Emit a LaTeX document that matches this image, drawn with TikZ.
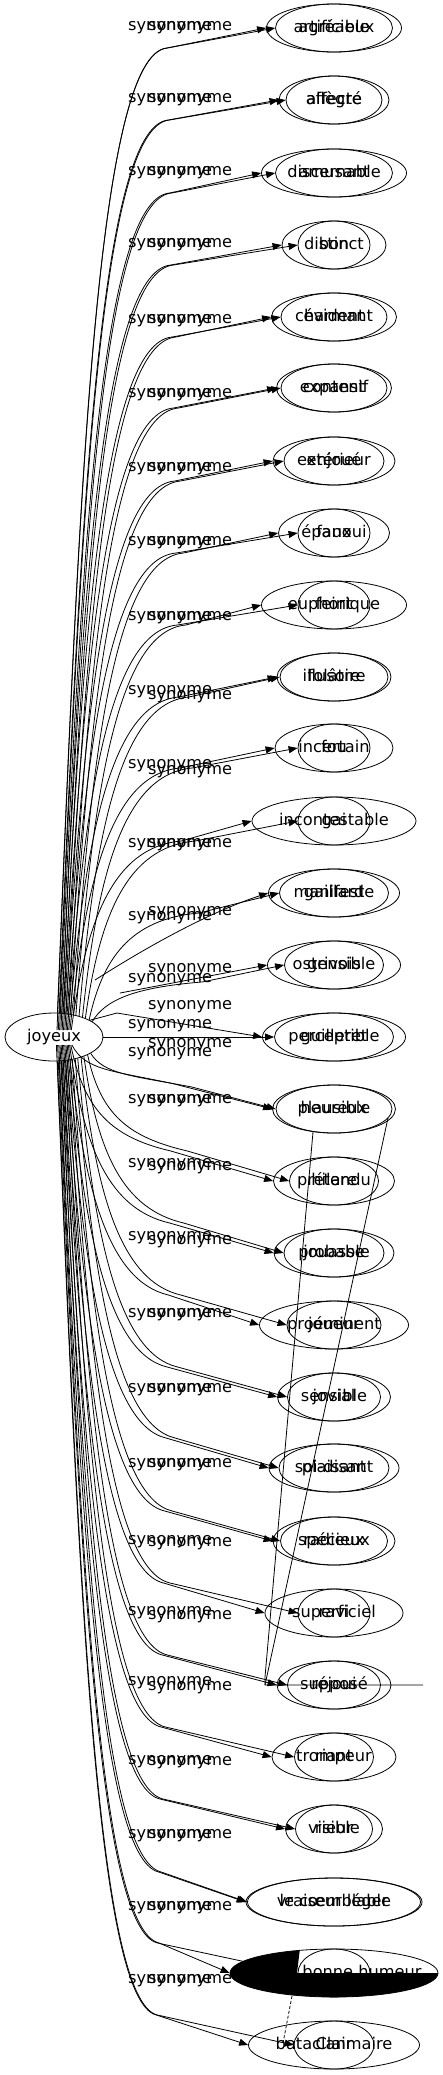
\documentclass[tikz,border=0pt]{standalone}
\usepackage{fontspec}
\setmainfont{DejaVu Sans}
\usetikzlibrary{shapes.geometric,arrows.meta}
\tikzset{
  word/.style={draw, ellipse, minimum height=48pt, inner sep=0pt, line width=0.8pt,
               text height=12pt, text depth=3.5pt},
  lbl/.style={anchor=west, inner sep=0pt},
  syn/.style={line width=0.8pt, -{Triangle[length=9pt,width=7pt]}},
  plain/.style={line width=0.8pt},
}
% #1 start point, #2 sx, #3 sy, #4 target y, #5 target node
\newcommand\synedge[5]{%
  \pgfmathsetmacro\myD{abs(#4-#3)}%
  \pgfmathsetmacro\myAx{#2+12+0.01*\myD}%
  \ifdim #4pt<#3pt
    \pgfmathsetmacro\myAy{#3-(0.55*\myD-10)}%
    \pgfmathsetmacro\myPx{#2+110}%
    \pgfmathsetmacro\myPy{#4+min(20,0.3*\myD)}%
    \pgfmathsetmacro\myBy{\myPy+min(6,0.1*\myD)}%
    \pgfmathsetmacro\myBx{\myPx-70}%
  \else
    \pgfmathsetmacro\myAy{#3+0.55*\myD-10}%
    \pgfmathsetmacro\myPx{#2+100}%
    \pgfmathsetmacro\myPy{#4-min(30,0.4*\myD)}%
    \pgfmathsetmacro\myBy{\myPy-min(14,0.2*\myD)}%
    \pgfmathsetmacro\myBx{\myPx-60}%
  \fi
  \draw[syn] #1 .. controls (\myAx,\myAy) and (\myBx,\myBy) .. (\myPx,\myPy) -- (#5.west);%
}
\begin{document}
\begin{tikzpicture}[x=1pt,y=-1pt,font=\fontsize{16.2}{19}\selectfont]
\useasboundingbox (0,0) rectangle (443,2075);

% centre node
\node[word, minimum width=98pt] (J) at (54,1037) {joyeux};

% word nodes (two overlaid graphs)
\foreach \k/\y/\wa/\ta/\wb/\tb in {
 1/28/117/agréable/135/artificieux,
 2/100/96/allègre/110/affecté,
 3/173/117/amusant/145/discernable,
 4/245/72/bon/104/distinct,
 5/317/125/charmant/106/évident,
 6/388/106/content/115/expansif,
 7/461/100/enjoué/122/extérieur,
 8/533/111/épanoui/72/faux,
 9/605/145/euphorique/72/feint,
 10/677/108/folâtre/114/illusoire,
 11/748/72/fou/118/incertain,
 12/821/72/gai/164/incontestable,
 13/893/109/gaillard/131/manifeste,
 14/965/99/grivois/133/ostensible,
 15/1037/119/guilleret/143/perceptible,
 16/1109/116/heureux/123/plausible,
 17/1181/89/hilare/121/prétendu,
 18/1253/100/jouasse/120/probable,
 19/1325/94/joueur/149/proéminent,
 20/1397/93/jovial/113/sensible,
 21/1468/110/plaisant/130/soi-disant,
 22/1541/107/radieux/122/spécieux,
 23/1613/72/ravi/138/superficiel,
 24/1685/93/réjoui/114/supposé,
 25/1757/79/riant/124/trompeur,
 26/1829/77/rieur/97/visible,
 27/1902/173/le cœur léger/176/vraisemblable,
 29/2045/80/Clair/171/bataclanmaire}{
  \node[word, minimum width=\wa pt] (a\k) at (334,\y) {\ta};
  \node[word, minimum width=\wb pt] (b\k) at (334,\y) {\tb};
}

% row 28 : the black ellipse
\node[word, minimum width=208pt] (a28) at (334,1973) {};
\node[anchor=base, inner sep=0pt] (t28) at (362,1977) {bonne humeur};
\node[word, minimum width=72pt] (b28) at (334,1973) {};
\begin{scope}
  \clip (334,1973) ellipse [x radius=104, y radius=24];
  \fill (220,1973) rectangle (450,2000);
  \fill (220,1940) -- (301,1940) -- (297,1973) -- (220,1973) -- cycle;
\end{scope}

% edge labels
\foreach \k/\ya/\yb in {
 1/28/28, 2/100/100, 3/173/173, 4/245/245, 5/321/321, 6/395/395,
 7/469/469, 8/543/543, 9/618/618, 10/692/697, 11/766/772, 12/845/845,
 13/918/913, 14/980/970, 15/1026/1007, 16/1054/1045, 17/1101/1101,
 18/1165/1168, 19/1238/1242, 20/1315/1315, 21/1390/1390, 22/1465/1465,
 23/1542/1544, 24/1613/1617, 25/1683/1688, 26/1762/1763, 27/1836/1836,
 28/1908/1908, 29/1981/1981}{
  \node[lbl] (la\k) at (128,\ya) {synonyme};
  \node[lbl] (lb\k) at (148,\yb) {synonyme};
}

% edges to rows above the centre
\foreach \k/\y in {1/28,2/100,3/173,4/245,5/317,6/388,7/461,8/533,9/605,
                   10/677,11/748,12/821,13/893,14/965}{
  \pgfmathtruncatemacro\thA{82-(\k-1)*4.6}
  \pgfmathsetmacro\tA{1/sqrt((cos(\thA)/49)^2+(sin(\thA)/24)^2)}
  \pgfmathsetmacro\sxA{54+\tA*cos(\thA)}
  \pgfmathsetmacro\syA{1037-\tA*sin(\thA)}
  \synedge{(J.\thA)}{\sxA}{\syA}{\y}{a\k}
  \ifnum\k<13
    \pgfmathsetmacro\xb{57+(\k-1)*1.3}
    \coordinate (sb\k) at (\xb,1030);
    \synedge{(sb\k)}{\xb}{1030}{\y}{b\k}
  \fi
}

% edges to rows below the centre
\foreach \k/\y in {16/1109,17/1181,18/1253,19/1325,20/1397,21/1468,22/1541,
                   23/1613,24/1685,25/1757,26/1829,27/1902,28/1973,29/2045}{
  \pgfmathtruncatemacro\thA{-(24+(\k-16)*4.5)}
  \pgfmathsetmacro\tA{1/sqrt((cos(\thA)/49)^2+(sin(\thA)/24)^2)}
  \pgfmathsetmacro\sxA{54+\tA*cos(\thA)}
  \pgfmathsetmacro\syA{1037-\tA*sin(\thA)}
  \synedge{(J.\thA)}{\sxA}{\syA}{\y}{a\k}
  \pgfmathsetmacro\xb{72-(\k-16)*1.2}
  \coordinate (sb\k) at (\xb,1045);
  \synedge{(sb\k)}{\xb}{1045}{\y}{b\k}
}

% irregular edges near the centre
\coordinate (f13) at (95,980);
\draw[syn] (f13) .. controls (150,945) and (210,912) .. (b13.west);
\coordinate (f14) at (120,993);
\draw[syn] (f14) -- (b14.west);
\draw[syn] (J.east) -- (a15.west);
\coordinate (k15) at (117,1013);
\draw[syn] (J.25) -- (k15) -- (b15.west);

% stray lines
\coordinate (g1) at (313,1132);
\coordinate (g2) at (388,1118);
\coordinate (g3) at (265,1677);
\coordinate (g4) at (265,1685);
\coordinate (g5) at (423,1685);
\draw[plain] (g1) -- (g3) -- (g4) -- (g5);
\draw[plain] (g2) -- (g4);
\coordinate (d1) at (292,1996);
\coordinate (d2) at (283,2043);
\draw[plain, dashed, dash pattern=on 3pt off 2pt] (d1) -- (d2);
\end{tikzpicture}
\end{document}
